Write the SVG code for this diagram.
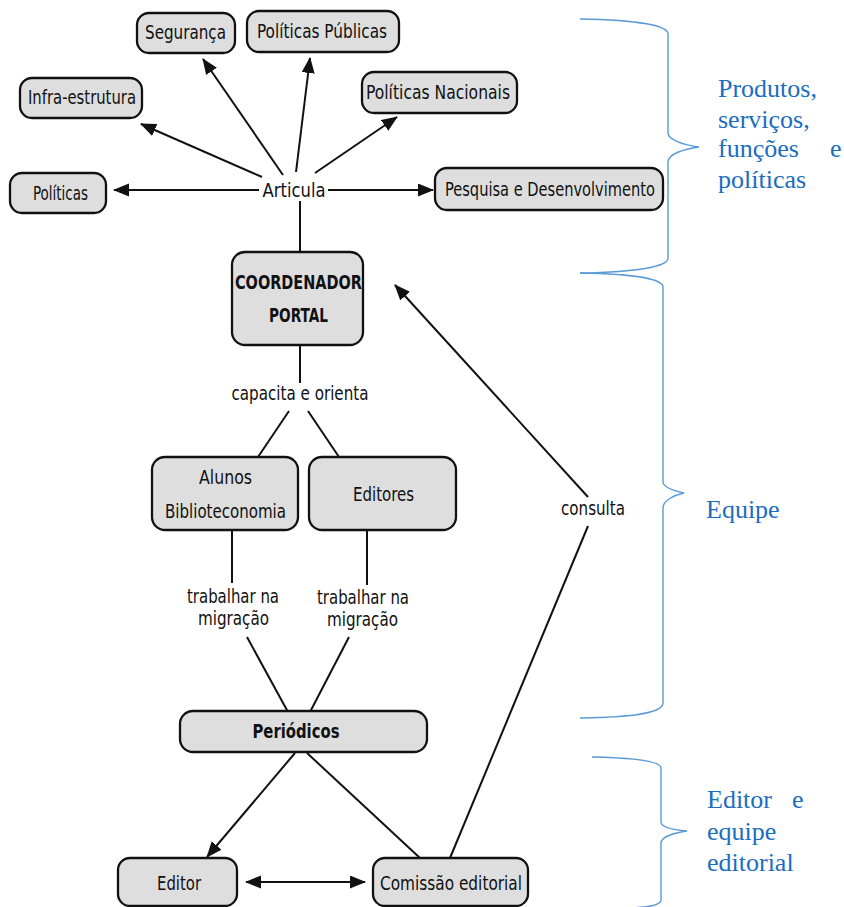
<svg xmlns="http://www.w3.org/2000/svg" width="844" height="907" viewBox="0 0 844 907">
<style>
.n rect{fill:#dedede;stroke:#111;stroke-width:2.3}
.t{font-family:"Liberation Sans Narrow","DejaVu Sans Condensed","Liberation Sans",sans-serif;font-size:19px;fill:#111;text-anchor:middle}
.b{font-weight:bold}
.c line,.c path{stroke:#111;stroke-width:2;fill:none}
.br{stroke:#5b9bd5;stroke-width:1.4;fill:none}
.bl{font-family:"Liberation Serif","Times New Roman",serif;font-size:26px;fill:#1a6dc0}
</style>
<defs>
<marker id="a" markerUnits="userSpaceOnUse" markerWidth="17" markerHeight="14" refX="15" refY="6.5" orient="auto-start-reverse"><path d="M0,0 L16,6.5 L0,13 z" fill="#111"/></marker>
</defs>
<rect width="844" height="907" fill="#fff"/>
<g class="c" id="connectors">
<line x1="283" y1="175" x2="203" y2="59" marker-end="url(#a)"/>
<line x1="296" y1="172" x2="310" y2="58" marker-end="url(#a)"/>
<line x1="262" y1="177" x2="141" y2="124" marker-end="url(#a)"/>
<line x1="315" y1="173" x2="397" y2="117" marker-end="url(#a)"/>
<line x1="259" y1="190" x2="114" y2="190" marker-end="url(#a)"/>
<line x1="328" y1="190" x2="433" y2="190" marker-end="url(#a)"/>
<line x1="300" y1="201" x2="300" y2="252"/>
<line x1="300" y1="345" x2="300" y2="383"/>
<line x1="289" y1="411" x2="258" y2="457"/>
<line x1="308" y1="411" x2="339" y2="457"/>
<line x1="232" y1="530" x2="232" y2="583"/>
<line x1="367" y1="530" x2="367" y2="585"/>
<line x1="247" y1="637" x2="288" y2="712"/>
<line x1="349" y1="637" x2="310" y2="712"/>
<line x1="295" y1="753" x2="207" y2="857" marker-end="url(#a)"/>
<line x1="307" y1="753" x2="420" y2="858"/>
<line x1="246" y1="882" x2="365" y2="882" marker-start="url(#a)" marker-end="url(#a)"/>
<line x1="450" y1="858" x2="588" y2="526"/>
<line x1="588" y1="497" x2="395" y2="285" marker-end="url(#a)"/>
<text class="t" x="294" y="197" textLength="63" lengthAdjust="spacingAndGlyphs">Articula</text>
<text class="t" x="300" y="400" textLength="137" lengthAdjust="spacingAndGlyphs">capacita e orienta</text>
<text class="t" x="233" y="603" textLength="92" lengthAdjust="spacingAndGlyphs">trabalhar na</text>
<text class="t" x="233.5" y="625" textLength="71" lengthAdjust="spacingAndGlyphs">migração</text>
<text class="t" x="363" y="604" textLength="92" lengthAdjust="spacingAndGlyphs">trabalhar na</text>
<text class="t" x="362.5" y="626" textLength="71" lengthAdjust="spacingAndGlyphs">migração</text>
<text class="t" x="593" y="515" textLength="64" lengthAdjust="spacingAndGlyphs">consulta</text>
</g>
<g class="n" id="seguranca"><rect x="137" y="13" width="98" height="40" rx="12"/><text class="t" x="185.5" y="39" textLength="81" lengthAdjust="spacingAndGlyphs">Segurança</text></g>
<g class="n" id="politicas-publicas"><rect x="247" y="11" width="152" height="41" rx="12"/><text class="t" x="322" y="38" textLength="130" lengthAdjust="spacingAndGlyphs">Políticas Públicas</text></g>
<g class="n" id="infra-estrutura"><rect x="20" y="78" width="122" height="40" rx="12"/><text class="t" x="82" y="104" textLength="108" lengthAdjust="spacingAndGlyphs">Infra-estrutura</text></g>
<g class="n" id="politicas-nacionais"><rect x="362" y="72" width="155" height="41" rx="12"/><text class="t" x="438" y="99" textLength="144" lengthAdjust="spacingAndGlyphs">Políticas Nacionais</text></g>
<g class="n" id="politicas"><rect x="10" y="173" width="96" height="40" rx="12"/><text class="t" x="60.5" y="200" textLength="55" lengthAdjust="spacingAndGlyphs">Políticas</text></g>
<g class="n" id="pesquisa"><rect x="435" y="168" width="228" height="42" rx="12"/><text class="t" x="550" y="196" textLength="210" lengthAdjust="spacingAndGlyphs">Pesquisa e Desenvolvimento</text></g>
<g class="n" id="coordenador"><rect x="232" y="252" width="131" height="93" rx="13"/><text class="t b" x="298.5" y="289" textLength="127" lengthAdjust="spacingAndGlyphs">COORDENADOR</text><text class="t b" x="298.5" y="322" textLength="59" lengthAdjust="spacingAndGlyphs">PORTAL</text></g>
<g class="n" id="alunos"><rect x="152" y="457" width="146" height="73" rx="13"/><text class="t" x="225.5" y="484" textLength="53" lengthAdjust="spacingAndGlyphs">Alunos</text><text class="t" x="225.5" y="518" textLength="121" lengthAdjust="spacingAndGlyphs">Biblioteconomia</text></g>
<g class="n" id="editores"><rect x="309" y="457" width="147" height="73" rx="13"/><text class="t" x="383.5" y="501" textLength="61" lengthAdjust="spacingAndGlyphs">Editores</text></g>
<g class="n" id="periodicos"><rect x="180" y="711" width="247" height="41" rx="13"/><text class="t b" x="296" y="738" textLength="87" lengthAdjust="spacingAndGlyphs">Periódicos</text></g>
<g class="n" id="editor"><rect x="118" y="858" width="119" height="48" rx="12"/><text class="t" x="179" y="890" textLength="44" lengthAdjust="spacingAndGlyphs">Editor</text></g>
<g class="n" id="comissao"><rect x="373" y="858" width="155" height="48" rx="12"/><text class="t" x="451" y="890" textLength="142" lengthAdjust="spacingAndGlyphs">Comissão editorial</text></g>
<g id="braces">
<path class="br" d="M580,19 C640,20 668,26 668,34 L668,133 C668,140 684,145 699,147 C684,149 668,154 668,162 L668,258 C668,266 640,272 580,273"/>
<path class="br" d="M580,273 C640,274 663,280 663,287 L663,482 C663,488 675,491 684,493 C675,495 663,500 663,508 L663,703 C663,712 640,717 580,718"/>
<path class="br" d="M592,757 C640,758 661,762 661,768 L661,822 C661,828 675,830 687,831 C675,833 661,836 661,843 L661,900 C661,905 650,907 630,908"/>
<text class="bl" x="718" y="97">Produtos,</text>
<text class="bl" x="718" y="128">serviços,</text>
<text class="bl" y="157"><tspan x="718">funções</tspan><tspan x="830">e</tspan></text>
<text class="bl" x="718" y="188">políticas</text>
<text class="bl" x="706" y="518">Equipe</text>
<text class="bl" y="808"><tspan x="707">Editor</tspan><tspan x="792">e</tspan></text>
<text class="bl" x="707" y="840">equipe</text>
<text class="bl" x="707" y="871">editorial</text>
</g>
</svg>
